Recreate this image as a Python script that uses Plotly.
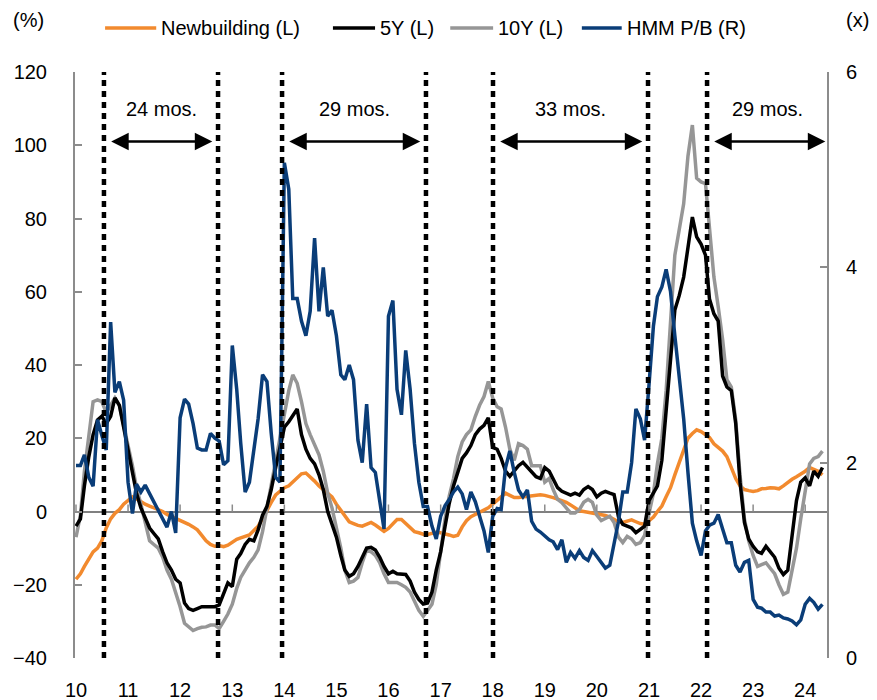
import pandas as pd
import plotly.graph_objects as go

# Monthly observations, Jan 2010 - May 2024
months = pd.date_range("2010-01-01", periods=173, freq="MS")

# Newbuilding price, YoY % (left axis)
newbuilding = [
    -18.5, -17, -15, -13, -11, -10, -8, -4.5, -2, -0.5, 0.5, 2,
    3, 4, 3.5, 2.7, 2, 1.5, 1, 0.5, 0, -0.8, -1.3, -2,
    -2.4, -2.8, -3.5, -4.2, -5, -6.5, -8, -9, -9.5, -9.3, -9.6, -9.2,
    -8.3, -7.6, -7.2, -6.8, -6.4, -5.2, -4, -2, 0.5, 2.5, 4.5, 5.5,
    6.5, 7, 8, 9.2, 10.3, 10.5, 9.5, 8.3, 7, 6, 5, 4,
    2, 0.3, -1.5, -2.8, -3.3, -3.8, -4, -3.6, -3, -3.7, -4.6, -5.4,
    -4.6, -3.3, -2.2, -2.2, -3.3, -4.6, -5.5, -5.8, -6.2, -6.3, -6, -5.7,
    -5.8, -6, -6.4, -6.8, -6.5, -4.2, -2.5, -1.4, -0.8, -0.2, 0.2, 1,
    2, 3, 4.2, 5, 4.4, 3.8, 3.8, 4, 4, 4.2, 4.5, 4.6,
    4.4, 4.2, 3.8, 3.4, 3, 2.5, 1.8, 1, 0.2, 0, -0.2, -0.3,
    -0.6, -0.8, -1.1, -1.5, -2.2, -2.8, -3, -2.6, -2.3, -2.8, -3.3, -3.5,
    -2.5, -1.5, 0, 1.5, 4, 6.5, 10, 13.5, 17, 20, 21.3, 22.3,
    21.8, 20.8, 20.2, 18.5, 17.5, 16.5, 15, 12, 9, 7, 6, 5.7,
    5.5, 5.7, 6.2, 6.3, 6.5, 6.4, 6.2, 7, 8, 8.8, 9.5, 10.2,
    11, 12, 11.5, 11, 10,
]

# 5-year-old secondhand price, YoY % (left axis)
five_year = [
    -4, -2, 7, 15, 21, 25, 26, 24, 26, 31, 29, 23,
    17, 11, 5, 1, -2, -4.5, -6, -7.5, -11, -14, -16, -18.5,
    -19.5, -25, -26.5, -27, -26.5, -26, -26, -26, -26, -25.5, -22.5, -19.5,
    -20.5, -13, -11.5, -9, -7.6, -8, -5, -1, 1.4, 6, 12, 17,
    23, 24.5, 26, 28, 21, 17, 14.5, 13, 10, 6, 0, -3.5,
    -7, -12, -16, -17.7, -17, -15, -12.5, -10, -9.8, -10.5, -12.5, -15,
    -17, -16.3, -17, -17, -17.2, -19, -22, -24, -25.3, -25, -22, -16,
    -11, -4, 2, 7, 11, 14.5, 16, 18, 21, 22.5, 23.5, 25.6,
    17.5, 17, 14.5, 11, 9.6, 11, 12.5, 13.4, 12, 11, 9.5, 9,
    12, 11, 9, 6.5, 5.5, 5, 4.5, 5, 4.5, 6, 6.8, 6,
    4, 5, 5.5, 5, 4.6, -1.5, -3.5, -4, -4.5, -5.8, -5, -4,
    3, 5, 7, 14, 28, 41, 55, 59, 64, 72, 80.4, 75,
    73, 70, 58, 54, 52, 37, 34, 33, 24, 8, -3, -7.5,
    -9.5, -11, -11.4, -9.5, -11, -12.5, -15.5, -17.2, -16, -6, 3, 8,
    9.2, 7, 11, 9.6, 12,
]

# 10-year-old secondhand price, YoY % (left axis)
ten_year = [
    -7, -1, 11, 21, 30, 30.5, 30, 27, 29, 31, 29, 23,
    18, 12.5, 6.5, 2, -3, -8, -9, -10, -12.5, -16, -18.5, -22,
    -26, -30.5, -31.5, -32.5, -32, -31.6, -31.5, -31, -31, -32, -30, -28,
    -25.3, -21, -18, -16, -14, -12.5, -10.5, -5.5, 1, 8, 14, 20.4,
    27, 33, 37.3, 35, 30, 24, 21, 18, 15.5, 11, 5, 1,
    -4, -10, -16, -19.4, -19, -18, -14, -10.5, -11, -12, -14, -17,
    -19.4, -19.4, -19.4, -20, -20.7, -22, -24.5, -27, -28.6, -27, -25.3, -20,
    -11, -2, 4, 9, 15, 19, 21, 22.3, 26, 29, 31.4, 35.5,
    31, 28.6, 28, 23, 17, 14, 18.5, 18, 17, 12.5, 12.5, 12.5,
    8, 9, 6, 3.3, 2.4, 1, -0.4, -0.4, 0.5, 2.5, 3.3, 2.5,
    -1, -2.5, -2, -1.3, -3, -7, -8.5, -6.8, -7.5, -9, -8.5, -6.5,
    -0.5, 5, 13, 20, 33, 52, 70, 77, 84, 97, 105.5, 91,
    90, 89.5, 78, 64, 56, 47, 36, 34, 25, 10, -2, -8,
    -12, -15, -14.5, -14, -15.5, -17, -20, -22.6, -22, -16, -10, -2,
    6, 13, 14.5, 15, 16.5,
]

# HMM price-to-book, x (right axis)
hmm_pb = [
    1.97, 1.97, 2.08, 1.85, 1.76, 2.44, 2.28, 2.13, 3.44, 2.72, 2.83, 2.64,
    1.8, 1.48, 1.78, 1.7, 1.77, 1.68, 1.6, 1.5, 1.42, 1.34, 1.5, 1.28,
    2.46, 2.65, 2.6, 2.4, 2.15, 2.13, 2.13, 2.3, 2.25, 2.22, 1.98, 2.02,
    3.2, 2.75, 2.2, 1.7, 1.8, 2.1, 2.45, 2.9, 2.83, 2.3, 1.85, 1.8,
    5.07, 4.8, 3.68, 3.68, 3.45, 3.3, 3.55, 4.3, 3.55, 4.0, 3.5, 3.56,
    3.3, 2.9, 2.85, 3.0, 2.85, 2.23, 2.0, 2.6, 1.95, 1.9, 1.6, 1.32,
    3.5, 3.66, 2.75, 2.49, 3.15, 2.75, 2.2, 1.8, 1.55, 1.55, 1.35, 1.22,
    1.45, 1.56, 1.62, 1.7, 1.75, 1.68, 1.52, 1.7, 1.6, 1.45, 1.3, 1.08,
    1.45, 1.53, 1.52, 1.95, 2.12, 1.9, 1.72, 1.65, 1.72, 1.4, 1.32, 1.29,
    1.25, 1.21, 1.19, 1.11, 1.21, 0.98, 1.08, 1.02, 1.1, 1.03, 1.0, 1.1,
    1.04, 0.98, 0.92, 0.95, 1.16, 1.4, 1.7, 1.7, 2.0, 2.55, 2.45, 2.23,
    2.8, 3.4, 3.7, 3.8, 3.98, 3.75, 3.3, 2.9, 2.45, 1.9, 1.38, 1.2,
    1.05, 1.3, 1.36, 1.38, 1.47, 1.32, 1.18, 1.18, 0.95, 0.88, 0.98, 1.0,
    0.6, 0.52, 0.51, 0.47, 0.47, 0.43, 0.44, 0.41, 0.4, 0.38, 0.34, 0.39,
    0.55, 0.61, 0.57, 0.5, 0.55,
]

# Cycle boundaries and the length of each span
cycle_marks = ["2010-07-16", "2012-09-23", "2013-12-16", "2016-09-20",
               "2018-01-03", "2020-12-25", "2022-02-12"]
cycle_spans = [(0, 1, "24 mos."), (2, 3, "29 mos."), (4, 5, "33 mos."), (6, None, "29 mos.")]

year_ticks = pd.date_range("2010-01-01", "2024-01-01", freq="YS")
year_labels = [f"{d.year % 100:02d}" for d in year_ticks]

x_start, x_end = "2009-12-25", "2024-06-02"

FONT = "Liberation Sans, Arial, sans-serif"
AXIS_GREY = "#8c8c8c"
ORANGE = "#f28a2e"
BLACK = "#000000"
GREY = "#969696"
NAVY = "#0a3d78"

series = [
    ("Newbuilding (L)", newbuilding, ORANGE, "y"),
    ("10Y (L)", ten_year, GREY, "y"),
    ("5Y (L)", five_year, BLACK, "y"),
    ("HMM P/B (R)", hmm_pb, NAVY, "y2"),
]

fig = go.Figure()
for name, values, color, axis in series:
    fig.add_trace(go.Scatter(x=months, y=values, name=name, mode="lines",
                             line=dict(color=color, width=3.5), yaxis=axis,
                             showlegend=False))

shapes = []
annotations = []

# legend row across the top: (label, colour, line start, line end) in paper units
legend_row = [
    ("Newbuilding (L)", ORANGE, 0.040, 0.108),
    ("5Y (L)", BLACK, 0.343, 0.399),
    ("10Y (L)", GREY, 0.499, 0.556),
    ("HMM P/B (R)", NAVY, 0.674, 0.727),
]
legend_y = 1.075
for label, color, x0, x1 in legend_row:
    shapes.append(dict(type="line", xref="paper", yref="paper", x0=x0, x1=x1,
                       y0=legend_y, y1=legend_y, line=dict(color=color, width=3.5)))
    annotations.append(dict(x=x1 + 0.004, y=legend_y, xref="paper", yref="paper", text=label,
                            xanchor="left", yanchor="middle", showarrow=False,
                            font=dict(family=FONT, size=20, color="black")))

# dotted cycle boundaries
for d in cycle_marks:
    shapes.append(dict(type="line", xref="x", yref="paper", x0=d, x1=d, y0=0, y1=1,
                       line=dict(color="black", width=4.5, dash="6px,5px"), layer="above"))
# year ticks sitting on the zero line
for d in year_ticks:
    shapes.append(dict(type="line", xref="x", yref="y", x0=d, x1=d,
                       ysizemode="pixel", yanchor=0, y0=0, y1=7,
                       line=dict(color=AXIS_GREY, width=1.5)))

pad = pd.Timedelta(days=40)
for a, b, label in cycle_spans:
    left = pd.Timestamp(cycle_marks[a])
    right = pd.Timestamp(cycle_marks[b]) if b is not None else pd.Timestamp(x_end)
    start = left + pad
    end = right - pad if b is not None else right - pd.Timedelta(days=12)
    annotations.append(dict(x=end, y=101, ax=start, ay=101, xref="x", yref="y",
                            axref="x", ayref="y", text="", showarrow=True,
                            arrowhead=2, startarrowhead=2, arrowside="end+start",
                            arrowsize=1.4, startarrowsize=1.4, arrowwidth=2.5,
                            arrowcolor="black", standoff=0, startstandoff=0))
    mid = left + (right - left) / 2
    annotations.append(dict(x=mid, y=110, xref="x", yref="y", text=label, showarrow=False,
                            xanchor="center", yanchor="middle",
                            font=dict(family=FONT, size=20, color="black")))

annotations.append(dict(x=-0.0625, y=1.089, xref="paper", yref="paper", text="(%)",
                        xanchor="center", yanchor="middle", showarrow=False,
                        font=dict(family=FONT, size=20, color="black")))
annotations.append(dict(x=1.041, y=1.089, xref="paper", yref="paper", text="(x)",
                        xanchor="center", yanchor="middle", showarrow=False,
                        font=dict(family=FONT, size=20, color="black")))

fig.update_layout(
    width=877, height=700, autosize=False,
    margin=dict(l=75, r=50, t=72, b=42, autoexpand=False),
    paper_bgcolor="white", plot_bgcolor="white",
    font=dict(family=FONT, size=20, color="black"),
    showlegend=False,
    xaxis=dict(type="date", range=[x_start, x_end], tickvals=year_ticks, ticktext=year_labels,
               showgrid=False, showline=False, zeroline=False, ticks="",
               ticklabelstandoff=18, tickfont=dict(family=FONT, size=20, color="black")),
    yaxis=dict(range=[-40, 120], dtick=20, showgrid=False, showline=True, linecolor=AXIS_GREY,
               linewidth=2, ticks="inside", ticklen=7, tickwidth=1.5, tickcolor=AXIS_GREY,
               zeroline=True, zerolinecolor="#808080", zerolinewidth=2,
               ticklabelstandoff=22, tickfont=dict(family=FONT, size=20, color="black")),
    yaxis2=dict(range=[0, 6], dtick=2, overlaying="y", side="right", showgrid=False,
                showline=True, linecolor=AXIS_GREY, linewidth=2, ticks="inside", ticklen=7,
                tickwidth=1.5, tickcolor=AXIS_GREY, zeroline=False,
                ticklabelstandoff=13, tickfont=dict(family=FONT, size=20, color="black")),
    shapes=shapes,
    annotations=annotations,
)

fig.write_html("out.html")
